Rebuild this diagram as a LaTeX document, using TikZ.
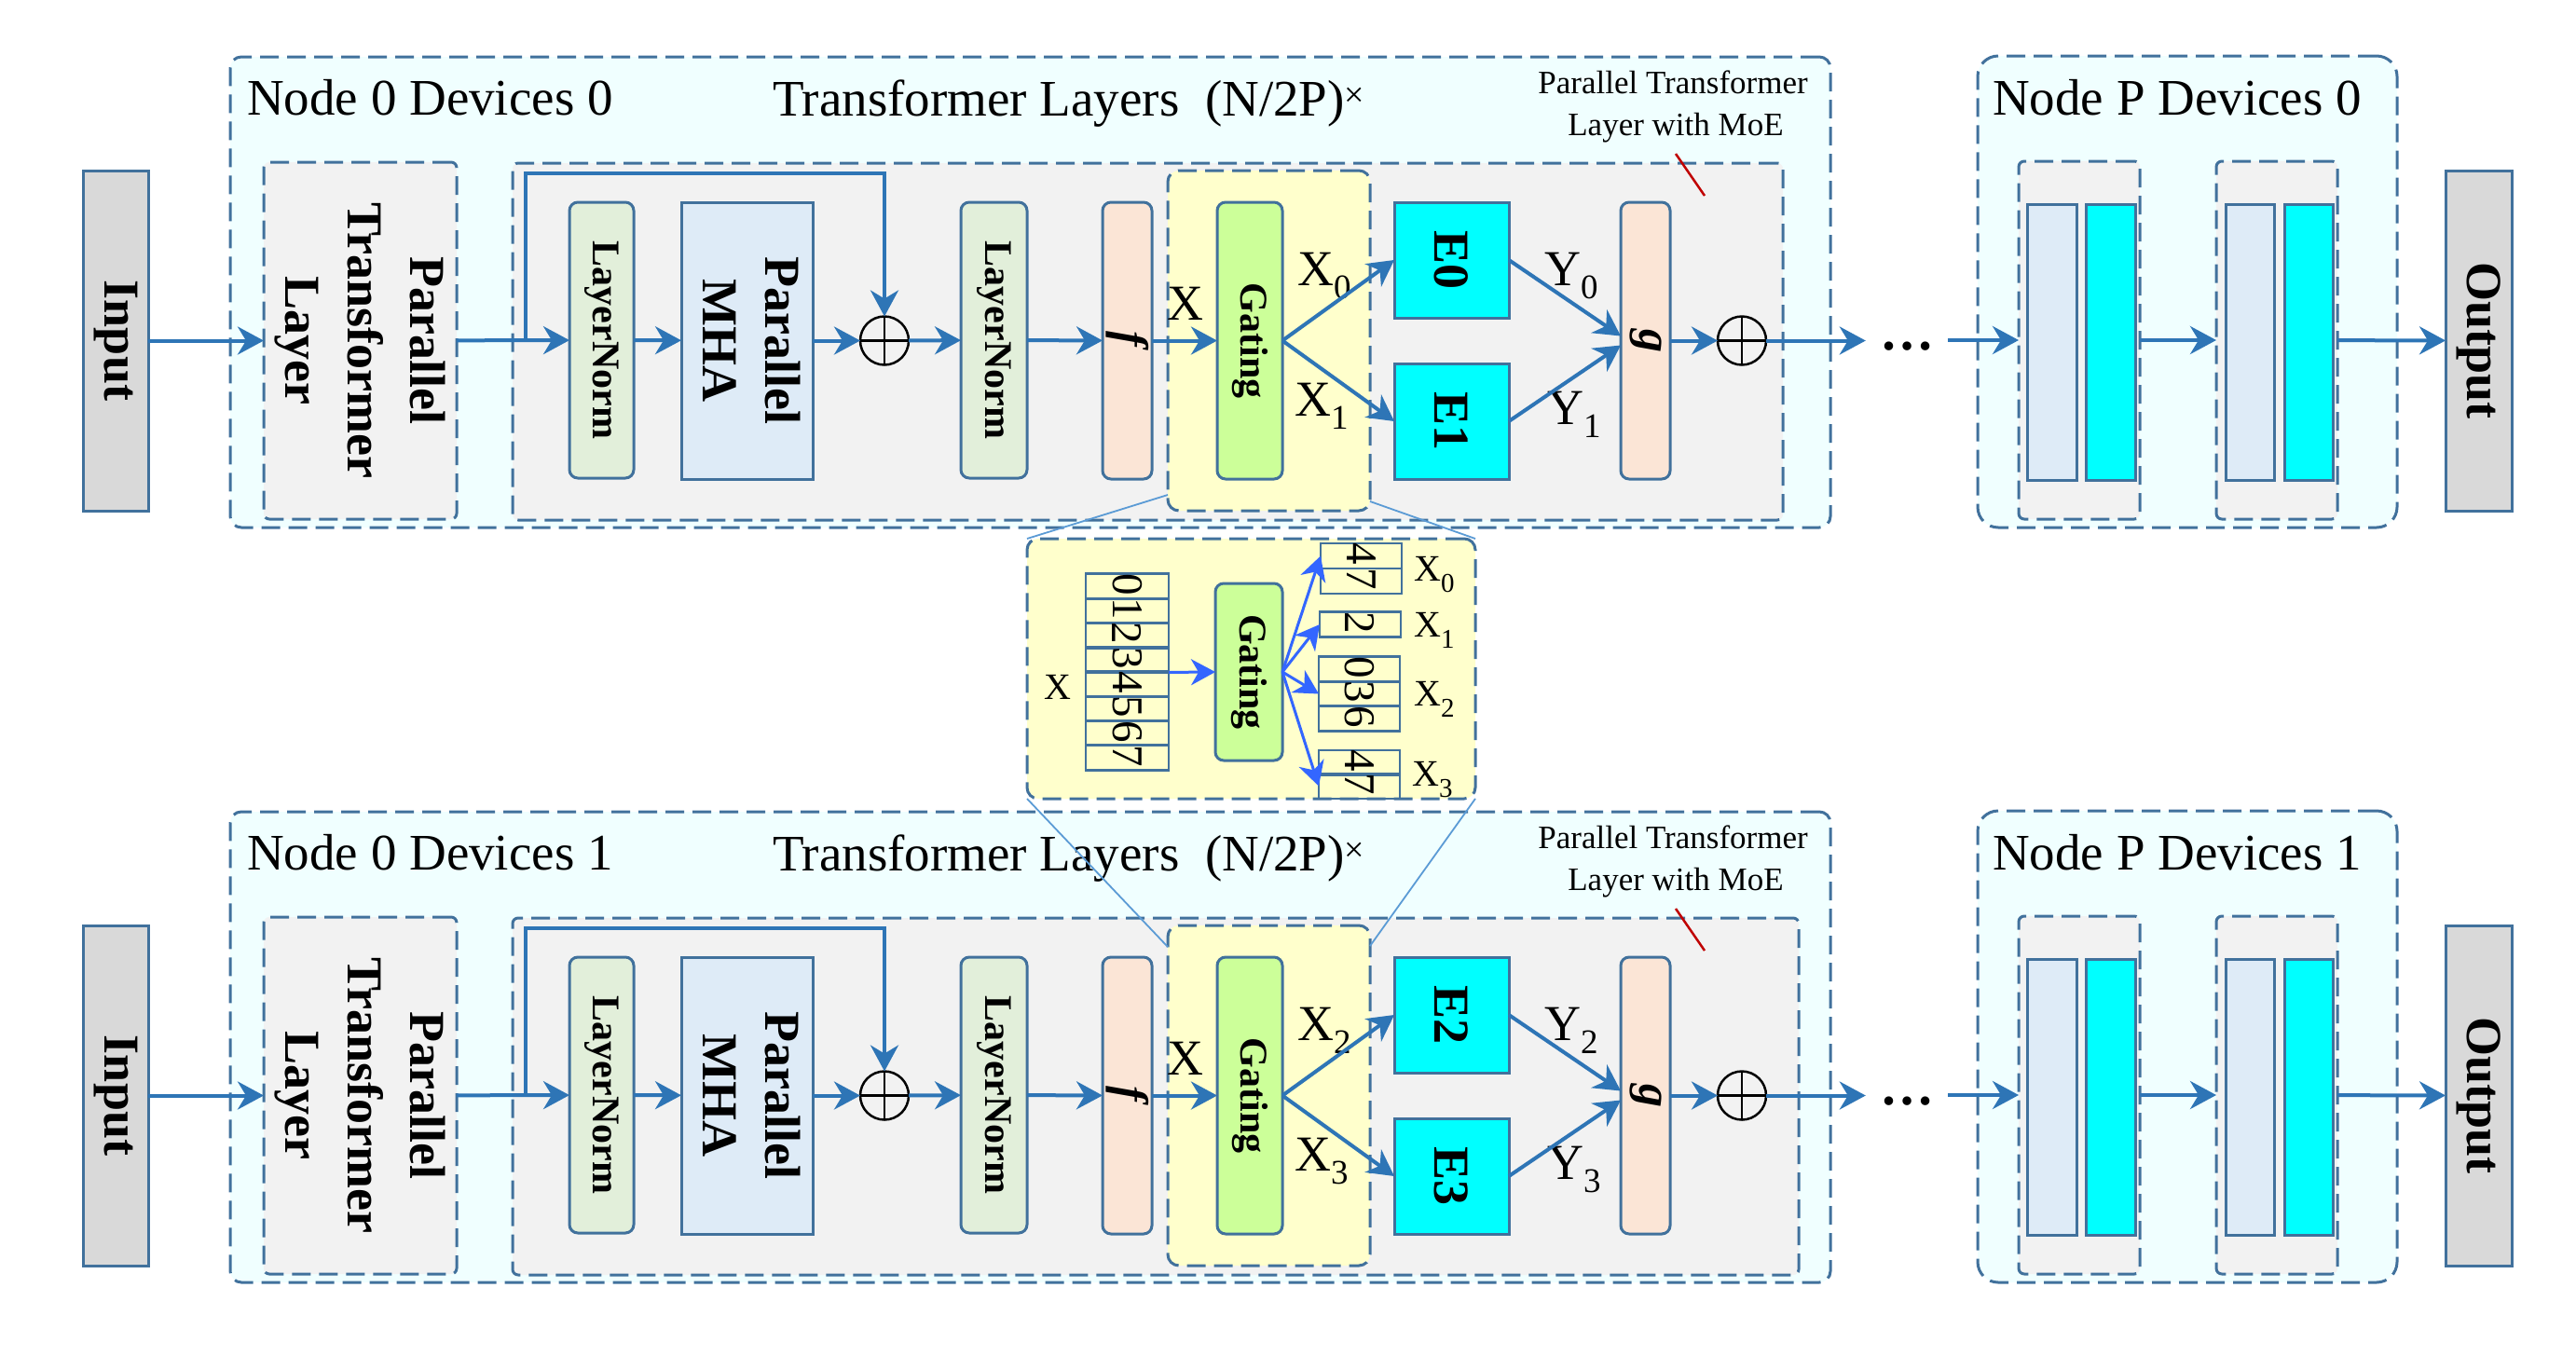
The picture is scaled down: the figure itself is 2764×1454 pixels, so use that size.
\documentclass[tikz,border=0pt]{standalone}
\usepackage{fontspec}
\setmainfont{Liberation Serif}
\usepackage{graphicx}
\usetikzlibrary{arrows.meta,calc}
\definecolor{bord}{RGB}{65,113,156}
\definecolor{arrc}{RGB}{46,117,182}
\definecolor{arrbc}{RGB}{51,102,255}
\definecolor{outerfill}{RGB}{240,255,255}
\definecolor{grayfill}{RGB}{242,242,242}
\definecolor{iofill}{RGB}{217,217,217}
\definecolor{lnfill}{RGB}{226,239,218}
\definecolor{mhafill}{RGB}{222,235,247}
\definecolor{peach}{RGB}{251,229,214}
\definecolor{gatefill}{RGB}{204,255,153}
\definecolor{yel}{RGB}{255,255,204}
\definecolor{cyanx}{RGB}{0,255,255}
\definecolor{redl}{RGB}{192,0,0}
\definecolor{linkc}{RGB}{91,155,213}
\newcommand\rotx[1]{\rotatebox[origin=c]{-90}{#1}}
\newcommand\xs[2]{#1\raisebox{-14pt}{\fontsize{37}{37}\selectfont #2}}
\newcommand\xz[2]{#1\raisebox{-12pt}{\fontsize{29}{29}\selectfont #2}}
\newcommand\boxfont{\fontsize{54}{67}\selectfont\bfseries}
\newcommand\midfont{\fontsize{42}{50}\selectfont\bfseries}
\newcommand\fgfont{\fontsize{50}{60}\selectfont\bfseries\itshape}
\newcommand\cellfont{\fontsize{47}{50}\selectfont}
\newcommand\bbx[7]{\node[#1, minimum width={((#5)-(#3))*1pt}, minimum height={((#6)-(#4))*1pt}] (#2) at ({((#3)+(#5))/2},{((#4)+(#6))/2}) {#7};}
\tikzset{
 base/.style={inner sep=0pt, outer sep=0pt, line width=3pt, draw=bord},
 dsh/.style={dash pattern=on 20pt off 9pt},
 outerbox/.style={base, dsh, fill=outerfill, rounded corners=12pt},
 outerboxP/.style={base, dsh, fill=outerfill, rounded corners=22pt},
 graybox/.style={base, dsh, fill=grayfill, rounded corners=6pt},
 yelbox/.style={base, dsh, fill=yel, rounded corners=12pt},
 iobox/.style={base, fill=iofill},
 lnbox/.style={base, fill=lnfill, rounded corners=9pt},
 mhabox/.style={base, fill=mhafill},
 peachbox/.style={base, fill=peach, rounded corners=9pt},
 gatebox/.style={base, fill=gatefill, rounded corners=9pt},
 cyanbox/.style={base, fill=cyanx},
 cellbox/.style={base, line width=2.5pt},
 oplus/.style={circle, draw=black, line width=2.5pt, minimum size=52pt, inner sep=0pt, outer sep=0pt},
 arr/.style={draw=arrc, line width=4pt, -{Stealth[length=28pt,width=30pt,inset=9pt]}},
 arrbl/.style={draw=arrbc, line width=3pt, -{Stealth[length=26pt,width=28pt,inset=8pt]}},
 link/.style={draw=linkc, line width=1.8pt},
 title/.style={inner sep=0pt, font=\fontsize{55}{66}\selectfont},
 smalltxt/.style={inner sep=0pt, font=\fontsize{35}{42}\selectfont},
 lbl/.style={inner sep=0pt, font=\fontsize{54}{60}\selectfont},
 lblz/.style={inner sep=0pt, font=\fontsize{40}{46}\selectfont},
 dotsn/.style={inner xsep=15pt, inner ysep=0pt, font=\fontsize{58}{58}\selectfont\bfseries},
}
\newcommand\moerow[5]{%
\bbx{outerbox}{out#1}{247}{61}{1964}{566}{}
\node[title, anchor=base west] (ta#1) at (265,123) {Node 0 Devices #2};
\node[title, anchor=base west] (tb#1) at (829,124) {Transformer Layers\hspace{0.5em}(N/2P)\raisebox{0.18em}{\fontsize{38}{38}\selectfont ×}};
\node[smalltxt, anchor=base] (tc#1) at (1795,100) {Parallel Transformer};
\node[smalltxt, anchor=base] (td#1) at (1798,145) {Layer with MoE};
\bbx{graybox}{ptl#1}{283}{174}{490}{557}{\rotx{\boxfont\begin{tabular}{@{}c@{}}Parallel\\Transformer\\Layer\end{tabular}}}
\bbx{graybox}{tl#1}{550}{175}{#5}{558}{}
\draw[redl, line width=2.5pt] (1798,165) -- (1829,210);
\bbx{yelbox}{gy#1}{1253}{183}{1470}{548}{}
\bbx{iobox}{in#1}{89}{183}{159}{548}{\rotx{\boxfont Input}}
\bbx{lnbox}{lna#1}{611}{217}{680}{513}{\rotx{\midfont LayerNorm}}
\bbx{mhabox}{mha#1}{731}{217}{872}{514}{\rotx{\boxfont\begin{tabular}{@{}c@{}}Parallel\\MHA\end{tabular}}}
\node[oplus] (ca#1) at (949,365.5) {};
\bbx{lnbox}{lnb#1}{1031}{217}{1102}{513}{\rotx{\midfont LayerNorm}}
\bbx{peachbox}{f#1}{1183}{217}{1236}{514}{\rotx{\fgfont f}}
\bbx{gatebox}{gt#1}{1306}{217}{1376}{514}{\rotx{\midfont Gating}}
\bbx{cyanbox}{ea#1}{1496}{217}{1619}{341}{\rotx{\boxfont E#3}}
\bbx{cyanbox}{eb#1}{1496}{390}{1619}{514}{\rotx{\boxfont E#4}}
\bbx{peachbox}{g#1}{1739}{217}{1792}{514}{\rotx{\fgfont g}}
\node[oplus] (cb#1) at (1869,365.5) {};
\node[lbl, anchor=base west] (lx#1) at (1252,343) {X};
\node[lbl, anchor=base west] (lxa#1) at (1392,306) {\xs{X}{#3}};
\node[lbl, anchor=base west] (lxb#1) at (1389,446) {\xs{X}{#4}};
\node[lbl, anchor=base west] (lya#1) at (1657,306) {\xs{Y}{#3}};
\node[lbl, anchor=base west] (lyb#1) at (1660,455) {\xs{Y}{#4}};
\node[dotsn] (dt#1) at (2046,372) {…};
\bbx{outerboxP}{np#1}{2122}{60}{2572}{566}{}
\node[title, anchor=base west] (tp#1) at (2138,123) {Node P Devices #2};
\bbx{graybox}{pa#1}{2166}{173}{2296}{557}{}
\bbx{mhabox}{pal#1}{2175}{219}{2228}{515}{}
\bbx{cyanbox}{pac#1}{2238}{219}{2291}{515}{}
\bbx{graybox}{pb#1}{2378}{173}{2508}{557}{}
\bbx{mhabox}{pbl#1}{2388}{219}{2440}{515}{}
\bbx{cyanbox}{pbc#1}{2451}{219}{2503}{515}{}
\bbx{iobox}{op#1}{2624}{183}{2695}{548}{\rotx{\boxfont Output}}
\draw[line width=2.5pt] (ca#1.north) -- (ca#1.south) (ca#1.west) -- (ca#1.east)
  (cb#1.north) -- (cb#1.south) (cb#1.west) -- (cb#1.east);
\draw[arr] (in#1) -- (ptl#1);
\draw[arr] (ptl#1) -- (lna#1);
\coordinate (sk#1) at (564,365.5);
\draw[arr] (sk#1) |- ($(ca#1.north)+(0,-154)$) -- (ca#1.north);
\draw[arr] (lna#1) -- (mha#1);
\draw[arr] (mha#1) -- (ca#1);
\draw[arr] (ca#1) -- (lnb#1);
\draw[arr] (lnb#1) -- (f#1);
\draw[arr] (f#1) -- (gt#1);
\draw[arr] (gt#1.east) -- (ea#1.west);
\draw[arr] (gt#1.east) -- (eb#1.west);
\draw[arr] (ea#1.east) -- ($(g#1.west)+(0,-5)$);
\draw[arr] (eb#1.east) -- ($(g#1.west)+(0,5)$);
\draw[arr] (g#1) -- (cb#1);
\draw[arr] (cb#1) -- (dt#1.west |- cb#1);
\draw[arr] (dt#1.east |- pa#1.west) -- (pa#1.west);
\draw[arr] (pa#1) -- (pb#1);
\draw[arr] (pb#1) -- (op#1);
}
\begin{document}
\begin{tikzpicture}[x=1pt,y=-1pt]
\fill[white] (0,0) rectangle (2764,1454);
\useasboundingbox (0,0) rectangle (2764,1454);
\moerow{A}{0}{0}{1}{1913}
\begin{scope}[yshift=-810pt]
\moerow{B}{1}{2}{3}{1930}
\end{scope}
% zoomed gating detail
\bbx{yelbox}{zm}{1102}{578}{1583}{857}{}
\node[lblz] (zx) at (1135,737) {X};
\foreach \d [count=\i from 0] in {0,...,7} {\bbx{cellbox}{xc\i}{1165}{616+\i*26.25}{1254}{642.25+\i*26.25}{\rotx{\cellfont\d}}}
\bbx{gatebox}{zg}{1304}{626}{1376}{816}{\rotx{\midfont Gating}}
\foreach \d [count=\i from 0] in {4,7} {\bbx{cellbox}{oa\i}{1417}{583+\i*27}{1504}{610+\i*27}{\rotx{\cellfont\d}}}
\bbx{cellbox}{ob0}{1416}{657}{1503}{683}{\rotx{\cellfont 2}}
\foreach \d [count=\i from 0] in {0,3,6} {\bbx{cellbox}{oc\i}{1415}{705+\i*26.33}{1502}{731.33+\i*26.33}{\rotx{\cellfont\d}}}
\foreach \d [count=\i from 0] in {4,7} {\bbx{cellbox}{od\i}{1415}{806+\i*25}{1502}{831+\i*25}{\rotx{\cellfont\d}}}
\node[lblz, anchor=base west] (zl0) at (1517,623) {\xz{X}{0}};
\node[lblz, anchor=base west] (zl1) at (1517,683) {\xz{X}{1}};
\node[lblz, anchor=base west] (zl2) at (1517,757) {\xz{X}{2}};
\node[lblz, anchor=base west] (zl3) at (1515,843) {\xz{X}{3}};
\draw[arrbl] (xc3.south east) -- (zg.west);
\draw[arrbl] (zg.east) -- (oa0.west);
\draw[arrbl] (zg.east) -- (ob0.west);
\draw[arrbl] (zg.east) -- (oc1.west);
\draw[arrbl] (zg.east) -- (od1.west);
\draw[link] ($(gyA.south west)+(0,-17)$) -- (zm.north west);
\draw[link] ($(gyA.south east)+(0,-10)$) -- (zm.north east);
\draw[link] (zm.south west) -- ($(gyB.north west)+(0,23)$);
\draw[link] (zm.south east) -- ($(gyB.north east)+(0,22)$);
\end{tikzpicture}
\end{document}
